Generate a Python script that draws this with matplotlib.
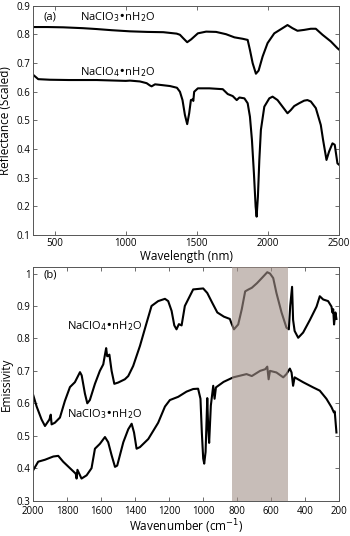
import matplotlib
matplotlib.use("Agg")
import matplotlib.pyplot as plt
import numpy as np

plt.rcParams['font.family'] = ['Open Sans', 'DejaVu Sans']

# ---- Panel (a): reflectance vs wavelength (nm)
wl_clo3 = [350, 450, 561, 700, 795, 900, 1030, 1150, 1264, 1358, 1381, 1404, 1432, 1460, 1507,
           1565, 1635, 1705, 1764, 1822, 1857, 1873, 1892, 1915, 1934, 1962, 1997, 2044, 2102,
           2137, 2172, 2207, 2254, 2301, 2336, 2383, 2441, 2488, 2500]
r_clo3 = [0.826, 0.826, 0.825, 0.822, 0.819, 0.815, 0.811, 0.809, 0.808, 0.803, 0.799, 0.787,
          0.773, 0.783, 0.804, 0.810, 0.809, 0.801, 0.790, 0.785, 0.781, 0.746, 0.700, 0.663,
          0.674, 0.723, 0.770, 0.804, 0.822, 0.833, 0.822, 0.813, 0.816, 0.820, 0.820, 0.799,
          0.776, 0.752, 0.747]

wl_clo4 = [350, 385, 467, 600, 795, 1000, 1030, 1100, 1147, 1170, 1182, 1206, 1260, 1311, 1360,
           1381, 1399, 1416, 1432, 1446, 1458, 1470, 1475, 1481, 1507, 1588, 1682, 1717, 1752,
           1780, 1799, 1834, 1857, 1873, 1887, 1901, 1913, 1920, 1929, 1939, 1950, 1974, 2009,
           2032, 2067, 2102, 2137, 2160, 2184, 2219, 2254, 2277, 2301, 2336, 2371, 2387, 2411,
           2429, 2453, 2469, 2488, 2500]
r_clo4 = [0.659, 0.644, 0.642, 0.641, 0.641, 0.638, 0.639, 0.636, 0.630, 0.622, 0.619, 0.626,
          0.623, 0.620, 0.614, 0.600, 0.571, 0.519, 0.487, 0.525, 0.571, 0.573, 0.568, 0.600,
          0.612, 0.612, 0.609, 0.592, 0.585, 0.571, 0.580, 0.577, 0.560, 0.513, 0.432, 0.315,
          0.199, 0.164, 0.234, 0.362, 0.467, 0.548, 0.577, 0.583, 0.571, 0.548, 0.525, 0.536,
          0.550, 0.560, 0.569, 0.571, 0.566, 0.543, 0.484, 0.432, 0.362, 0.391, 0.420, 0.415,
          0.350, 0.345]

# ---- Panel (b): emissivity vs wavenumber (cm-1)
wn_e4 = [2000, 1980, 1951, 1931, 1905, 1897, 1892, 1873, 1843, 1814, 1784, 1755, 1725, 1715,
         1696, 1682, 1667, 1637, 1608, 1588, 1578, 1571, 1565, 1559, 1552, 1539, 1523, 1500,
         1461, 1441, 1412, 1372, 1333, 1304, 1265, 1225, 1206, 1186, 1170, 1157, 1143, 1127,
         1108, 1059, 1000, 976, 947, 917, 878, 843, 835, 819, 794, 773, 753, 733, 714, 684,
         655, 623, 607, 588, 569, 539, 510, 496, 488, 477, 471, 462, 441, 412, 372, 333, 314,
         294, 265, 245, 240, 235, 230, 222, 216]
e_clo4 = [0.625, 0.590, 0.550, 0.530, 0.550, 0.565, 0.535, 0.540, 0.556, 0.607, 0.650, 0.665,
          0.696, 0.686, 0.630, 0.600, 0.610, 0.660, 0.700, 0.720, 0.750, 0.770, 0.745, 0.746,
          0.750, 0.700, 0.660, 0.664, 0.674, 0.684, 0.715, 0.777, 0.848, 0.900, 0.915, 0.922,
          0.915, 0.885, 0.840, 0.828, 0.844, 0.840, 0.900, 0.951, 0.954, 0.940, 0.910, 0.880,
          0.867, 0.860, 0.848, 0.828, 0.843, 0.890, 0.945, 0.951, 0.956, 0.970, 0.986, 1.004,
          1.000, 0.986, 0.940, 0.880, 0.833, 0.828, 0.900, 0.959, 0.857, 0.823, 0.802, 0.818,
          0.857, 0.898, 0.930, 0.920, 0.915, 0.898, 0.880, 0.890, 0.843, 0.880, 0.860]

wn_e3 = [2000, 1971, 1931, 1882, 1853, 1824, 1784, 1750, 1745, 1740, 1716, 1686, 1657, 1637,
         1608, 1578, 1559, 1539, 1519, 1506, 1490, 1470, 1441, 1421, 1407, 1392, 1372, 1323,
         1265, 1225, 1196, 1147, 1098, 1059, 1030, 1016, 1008, 1000, 994, 986, 976, 971, 965,
         955, 941, 933, 925, 880, 823, 745, 714, 665, 635, 623, 615, 607, 569, 529, 510, 490,
         480, 471, 462, 412, 353, 314, 275, 245, 231, 226, 216]
e_clo3 = [0.394, 0.420, 0.426, 0.436, 0.438, 0.420, 0.400, 0.383, 0.368, 0.395, 0.368, 0.378,
          0.400, 0.460, 0.475, 0.496, 0.480, 0.440, 0.404, 0.408, 0.440, 0.480, 0.520, 0.537,
          0.510, 0.460, 0.465, 0.490, 0.540, 0.590, 0.610, 0.620, 0.636, 0.644, 0.645, 0.614,
          0.510, 0.430, 0.414, 0.450, 0.616, 0.530, 0.478, 0.593, 0.654, 0.614, 0.649, 0.666,
          0.680, 0.690, 0.684, 0.700, 0.705, 0.713, 0.674, 0.700, 0.695, 0.680, 0.690, 0.707,
          0.695, 0.654, 0.680, 0.665, 0.649, 0.639, 0.614, 0.588, 0.572, 0.575, 0.510]

shade_range = (830, 500)

fig = plt.figure(figsize=(3.5, 5.36), dpi=100)
ax1 = fig.add_axes([0.095, 0.5616, 0.874, 0.4275])
ax2 = fig.add_axes([0.095, 0.0660, 0.874, 0.4358])

lw = 1.5
tick_fs = 7
lab_fs = 8.5
ann_fs = 8
spine_col = '#555555'

ax1.plot(wl_clo3, r_clo3, color='black', lw=lw)
ax1.plot(wl_clo4, r_clo4, color='black', lw=lw)
ax1.set_xlim(350, 2500)
ax1.set_ylim(0.1, 0.9)
ax1.set_xticks([500, 1000, 1500, 2000, 2500])
ax1.set_yticks(np.round(np.arange(0.1, 0.91, 0.1), 1))
ax1.set_xlabel('Wavelength (nm)', fontsize=lab_fs, labelpad=1)
ax1.set_ylabel('Reflectance (Scaled)', fontsize=lab_fs, labelpad=3)
ax1.text(0.035, 0.975, '(a)', transform=ax1.transAxes, fontsize=ann_fs, va='top', ha='left')
ax1.text(945, 0.86, r'NaClO$_3$•nH$_2$O', fontsize=ann_fs, ha='center', va='center')
ax1.text(945, 0.67, r'NaClO$_4$•nH$_2$O', fontsize=ann_fs, ha='center', va='center')

ax2.plot(wn_e4, e_clo4, color='black', lw=lw)
ax2.plot(wn_e3, e_clo3, color='black', lw=lw)
ax2.axvspan(shade_range[0], shade_range[1], color='#a39189', alpha=0.6, lw=0, zorder=3)
ax2.set_xlim(2000, 200)
ax2.set_ylim(0.3, 1.02)
ax2.set_xticks(list(range(2000, 199, -200)))
ax2.set_yticks(np.round(np.arange(0.3, 1.01, 0.1), 1))
ax2.set_yticklabels(['0.3', '0.4', '0.5', '0.6', '0.7', '0.8', '0.9', '1'])
ax2.set_xlabel('Wavenumber (cm$^{-1}$)', fontsize=lab_fs, labelpad=0)
ax2.set_ylabel('Emissivity', fontsize=lab_fs, labelpad=3)
ax2.text(0.035, 0.99, '(b)', transform=ax2.transAxes, fontsize=ann_fs, va='top', ha='left')
ax2.text(1581, 0.838, r'NaClO$_4$•nH$_2$O', fontsize=ann_fs, ha='center', va='center')
ax2.text(1581, 0.567, r'NaClO$_3$•nH$_2$O', fontsize=ann_fs, ha='center', va='center')

for ax in (ax1, ax2):
    ax.tick_params(direction='in', top=True, right=True, labelsize=tick_fs,
                   length=3, width=0.6, color=spine_col, pad=2)
    for s in ax.spines.values():
        s.set_color(spine_col)
        s.set_linewidth(0.7)
ax2.tick_params(axis='x', pad=4)

fig.savefig('out.png', dpi=100)
